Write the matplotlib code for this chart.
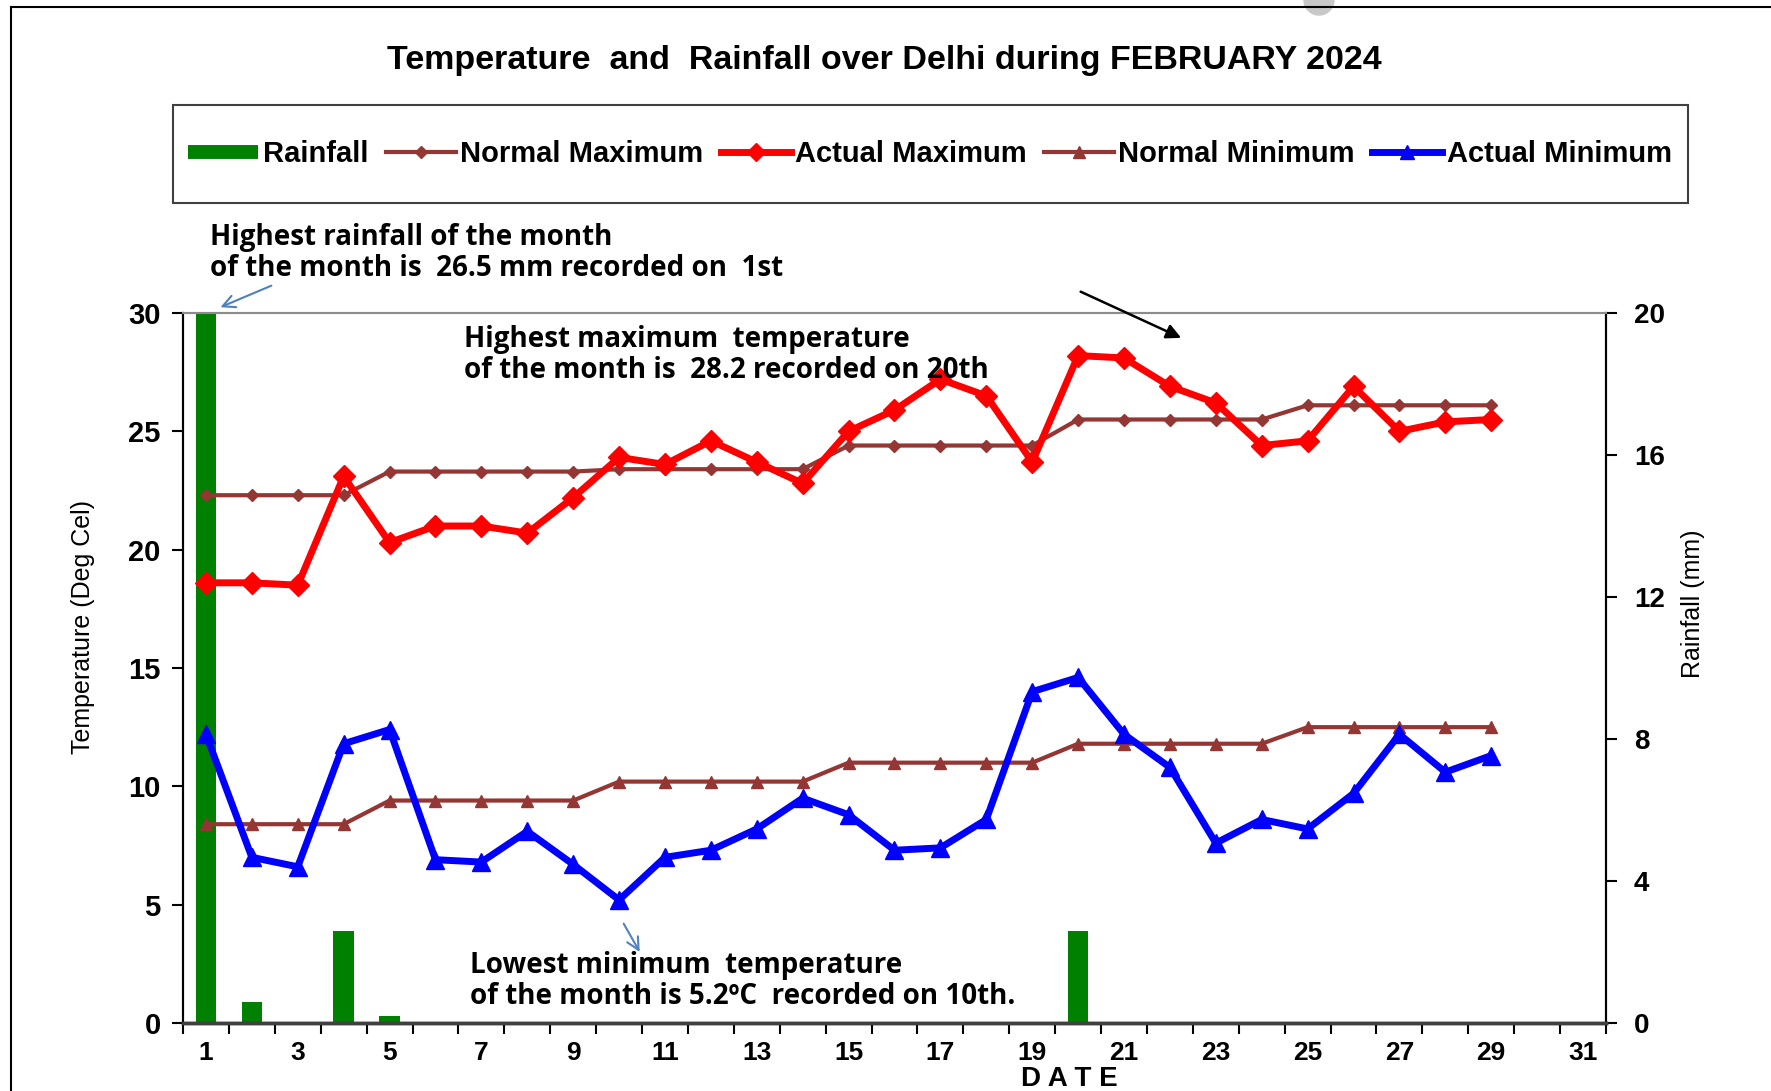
import matplotlib

matplotlib.use("Agg")
import matplotlib.pyplot as plt  # noqa: E402
from matplotlib.lines import Line2D  # noqa: E402
from matplotlib.patches import Ellipse, Rectangle  # noqa: E402
import numpy as np  # noqa: E402

W, H = 1771, 1091

days = np.arange(1, 32)
days_obs = np.arange(1, 30)

rainfall = [26.5, 0.6, 0.0, 2.6, 0.2, 0, 0, 0, 0, 0, 0, 0, 0, 0, 0, 0, 0, 0, 0, 2.6,
            0, 0, 0, 0, 0, 0, 0, 0, 0]
actual_max = [18.6, 18.6, 18.5, 23.1, 20.3, 21.0, 21.0, 20.7, 22.2, 23.9, 23.6, 24.6,
              23.7, 22.8, 25.0, 25.9, 27.2, 26.5, 23.7, 28.2, 28.1, 26.9, 26.2, 24.4,
              24.6, 26.9, 25.0, 25.4, 25.5]
normal_max = [22.3] * 4 + [23.3] * 5 + [23.4] * 5 + [24.4] * 5 + [25.5] * 5 + [26.1] * 5
actual_min = [12.2, 7.0, 6.6, 11.8, 12.4, 6.9, 6.8, 8.1, 6.7, 5.2, 7.0, 7.3, 8.2, 9.5,
              8.8, 7.3, 7.4, 8.6, 14.0, 14.6, 12.2, 10.8, 7.6, 8.6, 8.2, 9.7, 12.2,
              10.6, 11.3]
normal_min = [8.4] * 4 + [9.4] * 5 + [10.2] * 5 + [11.0] * 5 + [11.8] * 5 + [12.5] * 5

temp_ticks = [0, 5, 10, 15, 20, 25, 30]
rain_ticks = [0, 4, 8, 12, 16, 20]
date_labels = [str(d) if d % 2 == 1 else "" for d in days]

BROWN = "#943634"
GREEN = "#008000"
ARROW_BLUE = "#4f81bd"
SANS = "Liberation Sans"
NOTE = "Open Sans"


def fx(px):
    return px / W


def fy(py):
    return 1 - py / H


fig = plt.figure(figsize=(W / 100, H / 100), dpi=100)
fig.patch.set_facecolor("white")

ax = fig.add_axes([fx(183), fy(1023), fx(1606) - fx(183), fy(313) - fy(1023)])
ax2 = ax.twinx()
ax.set_zorder(ax2.get_zorder() + 1)
ax.patch.set_visible(False)

# rainfall bars on the right axis
ax2.bar(days_obs, rainfall, width=0.45, color=GREEN, zorder=2)
ax2.set_ylim(0, 20)
ax2.set_yticks(rain_ticks)
ax2.set_yticklabels([str(t) for t in rain_ticks], fontsize=20, fontweight="bold", family=SANS)
ax2.tick_params(axis="y", direction="out", length=8, width=1.5, pad=12)
ax2.set_ylabel("Rainfall (mm)", fontsize=18, family=SANS)
ax2.yaxis.set_label_coords(1.053, 0.59)

# temperature lines
ax.plot(days_obs, normal_max, color=BROWN, lw=3, marker="D", ms=6, zorder=3)
ax.plot(days_obs, actual_max, color="red", lw=5, marker="D", ms=11, zorder=4)
ax.plot(days_obs, normal_min, color=BROWN, lw=3, marker="^", ms=8, zorder=3)
ax.plot(days_obs, actual_min, color="blue", lw=5, marker="^", ms=13, zorder=4)

ax.set_xlim(0.5, 31.5)
ax.set_ylim(0, 30)
ax.set_yticks(temp_ticks)
ax.set_yticklabels([str(t) for t in temp_ticks], fontsize=21, fontweight="bold", family=SANS)
ax.set_xticks(days)
ax.set_xticklabels(date_labels, fontsize=19, fontweight="bold", family=SANS)
ax.set_xticks(np.arange(0.5, 32, 1), minor=True)
ax.tick_params(axis="x", which="major", length=0, pad=13)
ax.tick_params(axis="x", which="minor", direction="out", length=8, width=1.5)
ax.tick_params(axis="y", direction="out", length=8, width=1.5, pad=8)
ax.set_ylabel("Temperature (Deg Cel)", fontsize=18, family=SANS)
ax.yaxis.set_label_coords(-0.062, 0.558)

for a in (ax, ax2):
    a.spines["top"].set_color("#8c8c8c")
    a.spines["top"].set_linewidth(1.5)
    a.spines["left"].set_linewidth(1.5)
    a.spines["right"].set_linewidth(1.5)
    a.spines["bottom"].set_color("#404040")
    a.spines["bottom"].set_linewidth(2.5)

fig.text(fx(1069), fy(1079), "D A T E", ha="center", va="center", fontsize=20,
         fontweight="bold", family=SANS)

# title
fig.text(fx(884), fy(61), "Temperature  and  Rainfall over Delhi during FEBRUARY 2024",
         ha="center", va="center", fontsize=24.5, fontweight="bold", family=SANS)

# legend inside a framed box
fig.add_artist(Rectangle((fx(173), fy(203)), fx(1688) - fx(173), fy(105) - fy(203),
                         transform=fig.transFigure, fill=False, edgecolor="#404040", lw=1.5))
handles = [
    Line2D([], [], color=GREEN, lw=10, solid_capstyle="butt"),
    Line2D([], [], color=BROWN, lw=3, marker="D", ms=6),
    Line2D([], [], color="red", lw=5, marker="D", ms=9),
    Line2D([], [], color=BROWN, lw=3, marker="^", ms=8),
    Line2D([], [], color="blue", lw=5, marker="^", ms=10),
]
labels = ["Rainfall", "Normal Maximum", "Actual Maximum", "Normal Minimum", "Actual Minimum"]
fig.legend(handles, labels, loc="center", bbox_to_anchor=(fx(930), fy(154)), ncol=5,
           frameon=False, handlelength=2.4, handletextpad=0.15, columnspacing=0.6,
           prop={"family": SANS, "weight": "bold", "size": 21})

# notes and arrows
note = {"fontsize": 20, "fontweight": "bold", "family": NOTE, "va": "center"}
fig.text(fx(210), fy(237), "Highest rainfall of the month", **note)
fig.text(fx(210), fy(269), "of the month is  26.5 mm recorded on  1st", **note)
fig.text(fx(464), fy(339), "Highest maximum  temperature", **note)
fig.text(fx(464), fy(370), "of the month is  28.2 recorded on 20th", **note)
fig.text(fx(470), fy(965), "Lowest minimum  temperature", **note)
fig.text(fx(470), fy(996), "of the month is 5.2\u00baC  recorded on 10th.", **note)

ax.annotate("", xy=(1.26, 30.2), xytext=(2.48, 31.2), annotation_clip=False,
            arrowprops=dict(arrowstyle="->", color=ARROW_BLUE, lw=1.5, mutation_scale=22))
ax.annotate("", xy=(22.3, 28.9), xytext=(20.0, 30.95), annotation_clip=False,
            arrowprops=dict(arrowstyle="-|>", color="black", lw=1.8, mutation_scale=22))
ax.annotate("", xy=(10.48, 2.9), xytext=(10.07, 4.3), annotation_clip=False,
            arrowprops=dict(arrowstyle="->", color=ARROW_BLUE, lw=1.5, mutation_scale=22))

# outer frame of the original picture
fig.add_artist(Line2D([fx(11), fx(11)], [0, fy(7)], transform=fig.transFigure, color="black", lw=1.5))
fig.add_artist(Line2D([fx(11), 1], [fy(7), fy(7)], transform=fig.transFigure, color="black", lw=1.5))
fig.add_artist(Ellipse((fx(1319), fy(0)), 30 / W, 30 / H, transform=fig.transFigure,
                       color="#c8c8c8", zorder=0))

fig.savefig("out.png", dpi=100, facecolor=fig.get_facecolor())
plt.close(fig)
